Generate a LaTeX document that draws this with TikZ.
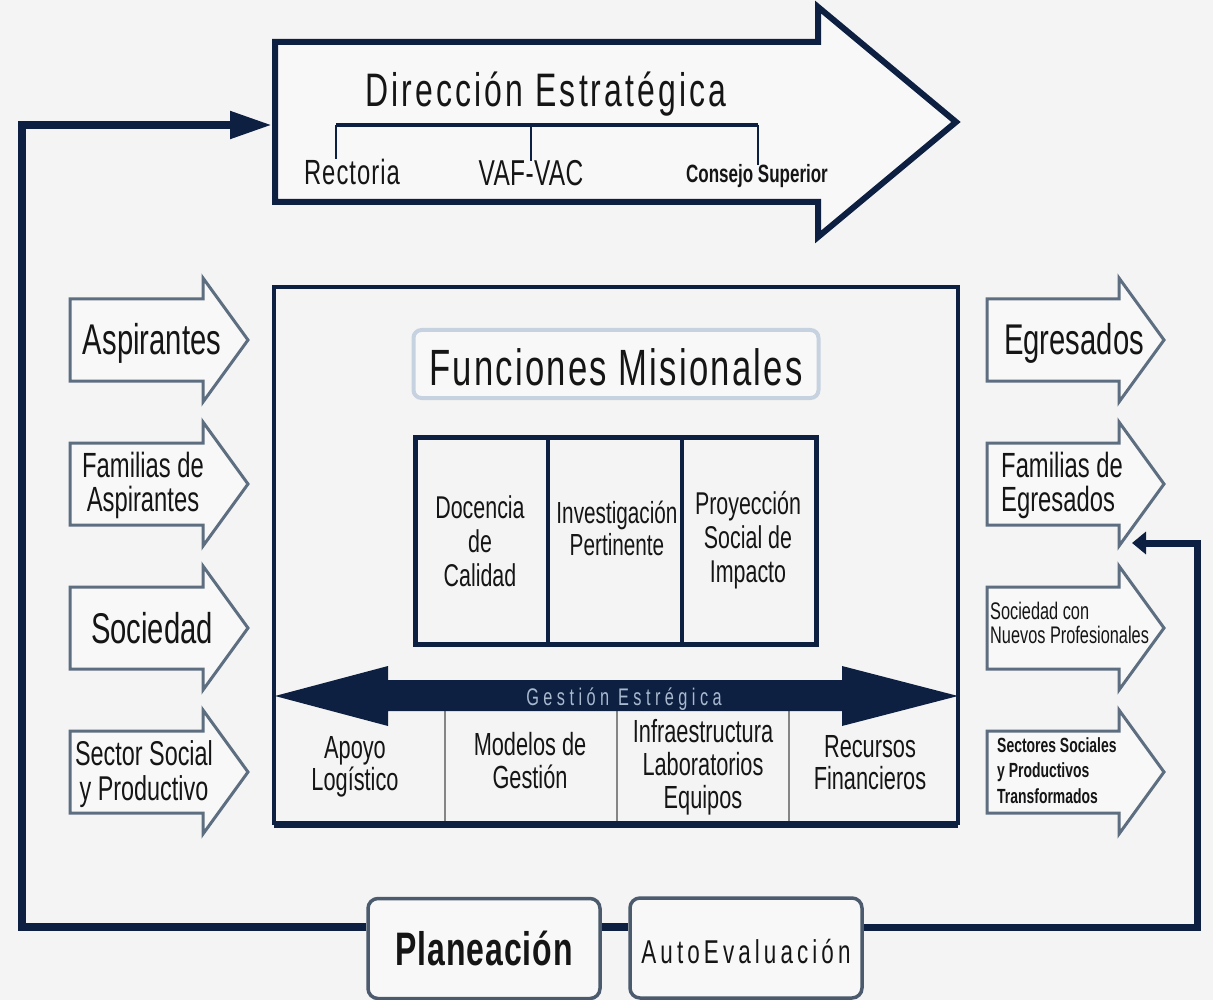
\documentclass[tikz,border=0pt]{standalone}
\usepackage{fontspec}
\setmainfont{Liberation Sans}
\newfontfamily\nar[FakeStretch=0.68]{Liberation Sans}
\usetikzlibrary{arrows.meta}
\definecolor{bg}{HTML}{F4F4F4}
\definecolor{paper}{HTML}{F8F8F8}
\definecolor{navy}{HTML}{0D2042}
\definecolor{slate}{HTML}{5D6E80}
\definecolor{funcB}{HTML}{C7D2E1}
\definecolor{gestT}{HTML}{A9B9CE}
\definecolor{ink}{HTML}{151515}
\definecolor{divgray}{HTML}{858585}
\definecolor{boxgray}{HTML}{4B5A6C}
\newcommand\fsz[2]{\fontsize{#1}{#2}\selectfont}
\newcommand\blockarr[6]{\draw[sidearrow] (#1,#2-#3) -- (#4,#2-#3) -- (#4,#2-#5) -- (#6,#2) -- (#4,#2+#5) -- (#4,#2+#3) -- (#1,#2+#3) -- cycle;}
\tikzset{
  tx/.style={inner sep=0pt, text=ink, align=center},
  txl/.style={inner sep=0pt, text=ink, align=left},
  sidearrow/.style={draw=slate, line width=3pt, fill=paper, line join=miter},
  loopline/.style={draw=navy, line width=8pt, line join=miter},
  pbox/.style={draw=boxgray, line width=3.5pt, fill=paper, rounded corners=10pt,
    minimum width=232pt, minimum height=100pt, inner sep=0pt, text=ink},
}
\begin{document}
\begin{tikzpicture}[x=1pt,y=-1pt]
\path[fill=bg] (0,0) rectangle (1213,1000);
\useasboundingbox (0,0) rectangle (1213,1000);
\clip (0,0) rectangle (1213,1000);

% Direccion estrategica arrow
\draw[navy, line width=6pt, fill=paper, line join=miter]
  (275,42) -- (818,42) -- (818,7) -- (956,122) -- (818,237) -- (818,202) -- (275,202) -- cycle;
\coordinate (dirIn) at (272,125);
\node[tx, anchor=base, font=\nar\fsz{47}{47}\addfontfeatures{LetterSpace=6.6}] (dirT) at (546,107) {Dirección Estratégica};
\node[tx, anchor=base, font=\nar\fsz{35}{35}\addfontfeatures{LetterSpace=3}] (rect) at (352,185) {Rectoria};
\node[tx, anchor=base, font=\nar\fsz{36}{36}\addfontfeatures{LetterSpace=1}] (vaf) at (531,186) {VAF-VAC};
\node[tx, anchor=base, font=\nar\bfseries\fsz{25}{25}] (cons) at (757,183) {Consejo Superior};
\coordinate (brL) at (336,125);
\coordinate (brM) at (531,125);
\coordinate (brR) at (758,125);
\draw[navy, line width=3.5pt] (brL) -- (brR);
\draw[navy, line width=1.5pt] (brL) -- (brL |- rect.north);
\draw[navy, line width=1.5pt] (brM) -- (vaf.north);
\draw[navy, line width=1.5pt] (brR) -- (brR |- cons.north);

% Side arrows left
\blockarr{70}{340}{41}{203}{62}{248}
\blockarr{70}{484}{41}{203}{62}{248}
\blockarr{70}{628}{41}{203}{62}{248}
\blockarr{70}{772}{41}{203}{62}{248}
\node[tx, anchor=base, font=\nar\fsz{43}{43}] (asp) at (152,355) {Aspirantes};
\node[tx, anchor=base, font=\nar\fsz{35}{34}] (famA) at (143,511) {Familias de\\Aspirantes};
\node[tx, anchor=base, font=\nar\fsz{43}{43}] (soc) at (152,643) {Sociedad};
\node[tx, anchor=base, font=\nar\fsz{34.4}{35}] (sect) at (144,800) {Sector Social\\y Productivo};

% Side arrows right
\blockarr{987}{340}{41}{1119}{62}{1164}
\blockarr{987}{484}{41}{1119}{62}{1164}
\blockarr{987}{628}{41}{1119}{62}{1164}
\blockarr{987}{772}{41}{1119}{62}{1164}
\node[tx, anchor=base, font=\nar\fsz{43}{43}] (egr) at (1074,355) {Egresados};
\node[txl, anchor=base west, font=\nar\fsz{35}{34}] (famE) at (1001,511) {Familias de\\Egresados};
\node[txl, anchor=base west, font=\nar\fsz{24}{24}] (socN) at (990,643) {Sociedad con\\Nuevos Profesionales};
\node[txl, anchor=base west, font=\nar\bfseries\fsz{20.5}{25.5}] (sectS) at (997,803) {Sectores Sociales\\y Productivos\\Transformados};
\coordinate (famEIn) at (1132,543);

% Central box
\draw[navy, line width=4.5pt] (274,287) rectangle (958,823);
\draw[navy, line width=7pt] (274,824) -- (958,824);

\node[draw=funcB, line width=4pt, fill=paper, rounded corners=8pt, minimum width=405pt,
  minimum height=68pt, inner sep=0pt, text=ink, anchor=base, text height=42pt, text depth=0pt,
  font=\nar\fsz{51}{51}\addfontfeatures{LetterSpace=4.3}] (func) at (616,385) {Funciones Misionales};

\draw[navy, line width=5pt] (415,437) rectangle (816,644);
\draw[navy, line width=4.5pt] (548,437) -- (548,644);
\draw[navy, line width=4.5pt] (682,437) -- (682,644);
\node[tx, anchor=base, font=\nar\fsz{31.5}{34}] (doc) at (480,586) {Docencia\\de\\Calidad};
\node[tx, anchor=base, font=\nar\fsz{30.5}{32}] (inv) at (617,555) {Investigación\\Pertinente};
\node[tx, anchor=base, font=\nar\fsz{31.5}{34}] (proy) at (748,582) {Proyección\\Social de\\Impacto};

% Bottom row
\draw[divgray, line width=1.2pt] (445,711) -- (445,821);
\draw[divgray, line width=1.2pt] (617,711) -- (617,821);
\draw[divgray, line width=1.2pt] (789,711) -- (789,821);
\node[tx, anchor=base, font=\nar\fsz{32}{32}] (apoyo) at (355,790) {Apoyo\\Logístico};
\node[tx, anchor=base, font=\nar\fsz{32}{33}] (model) at (530,788) {Modelos de\\Gestión};
\node[tx, anchor=base, font=\nar\fsz{32}{33}] (infra) at (703,808) {Infraestructura\\Laboratorios\\Equipos};
\node[tx, anchor=base, font=\nar\fsz{32}{32}] (recur) at (870,789) {Recursos\\Financieros};

% Gestion double arrow
\fill[navy] (275,696) -- (388,666) -- (388,680) -- (842,680) -- (842,666) -- (958,696)
  -- (842,726) -- (842,711) -- (388,711) -- (388,726) -- cycle;
\node[inner sep=0pt, text=gestT, anchor=base, font=\nar\fsz{24}{24}\addfontfeatures{LetterSpace=18.5}] (gest) at (624,705) {Gestión Estrégica};

% Bottom boxes
\node[pbox, anchor=base, text height=33pt, text depth=0pt, font=\nar\bfseries\fsz{47}{47}\addfontfeatures{LetterSpace=2}] (plan) at (484,965) {Planeación};
\node[pbox, anchor=base, text height=30pt, text depth=0pt, font=\nar\fsz{33}{33}\addfontfeatures{LetterSpace=12.4}] (auto) at (746,963) {AutoEvaluación};

% Feedback loop
\coordinate (bl) at (22,927);
\coordinate (br) at (1197,927);
\draw[loopline, -{Triangle[length=42pt,width=26pt]}] (plan.west |- bl) -- (bl) |- (dirIn);
\draw[loopline] (plan.east |- bl) -- (auto.west |- bl);
\draw[loopline, line width=7pt, -{Triangle[length=14pt,width=22pt]}] (auto.east |- br) -- (br) |- (famEIn);
\end{tikzpicture}
\end{document}
